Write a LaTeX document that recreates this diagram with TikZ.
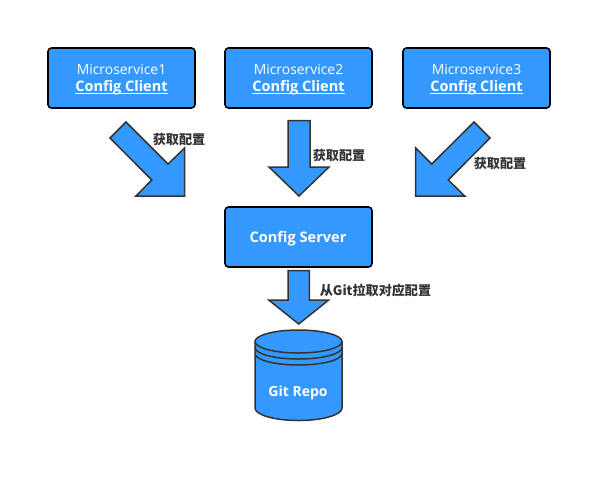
\documentclass[tikz,border=0pt]{standalone}
\usepackage{fontspec}
\setmainfont{Open Sans}
\newfontfamily\cjk{Noto Sans CJK SC}
\definecolor{fillblue}{HTML}{3399FF}
\definecolor{edgegray}{HTML}{333333}
\tikzset{
  svcbox/.style={draw=black,line width=1.6pt,fill=fillblue,rounded corners=3.5pt,minimum width=147pt,minimum height=60pt,inner sep=0pt},
  svctext/.style={text=white,inner sep=0pt,align=center,font=\fontsize{13.9}{17}\selectfont},
  blockarrow/.style={draw=edgegray,line width=1.5pt,fill=fillblue,line join=miter},
  tagtext/.style={text=edgegray,inner sep=0pt,font=\cjk\bfseries\fontsize{13.1}{15}\selectfont},
  cyl/.style={draw=edgegray,line width=1.5pt},
  cyltext/.style={text=white,inner sep=0pt,font=\bfseries\fontsize{14}{16}\selectfont}
}
\newcommand{\cfgclient}{{\fontsize{14.5}{17}\selectfont\textbf{\underline{\smash{Config Client}\rule[-1pt]{0pt}{1pt}}}}}
\begin{document}
\begin{tikzpicture}[x=1pt,y=-1pt]
\useasboundingbox (0,0) rectangle (612,483);
\fill[white] (0,0) rectangle (612,483);
\node[svcbox] (svc1) at (121.5,78) {};
\node[svcbox] (svc2) at (298.5,78) {};
\node[svcbox] (svc3) at (476.5,78) {};
\node[svcbox] (srv) at (298.5,237) {};
\node[svctext] (svc1t) at (121.5,79) {Microservice1\\\cfgclient};
\node[svctext] (svc2t) at (298.5,79) {Microservice2\\\cfgclient};
\node[svctext] (svc3t) at (476.5,79) {Microservice3\\\cfgclient};
\node[text=white,inner sep=0pt,font=\bfseries\fontsize{14.6}{17}\selectfont] (srvt) at (298,239) {Config Server};
% arrows
\draw[blockarrow] (126,122) -- (110,138) -- (151.7,180) -- (136,196) -- (184.7,196) -- (184.7,148) -- (168,164) -- cycle;
\draw[blockarrow] (288,120.5) -- (310,120.5) -- (310,167) -- (329,167) -- (299,196) -- (269,167) -- (288,167) -- cycle;
\draw[blockarrow] (474,122) -- (490,138) -- (448.3,180) -- (464.7,196) -- (415.7,196) -- (415.7,148) -- (431.7,164) -- cycle;
\draw[blockarrow] (288,270.7) -- (309.3,270.7) -- (309.3,300) -- (328.7,300) -- (298.7,324) -- (268.7,300) -- (288,300) -- cycle;
% labels
\node[tagtext] (t1) at (179,140) {获取配置};
\node[tagtext] (t2) at (339,156) {获取配置};
\node[tagtext] (t3) at (500,164) {获取配置};
\node[tagtext] (t4) at (375.5,290) {从Git拉取对应配置};
% repository
\draw[cyl,fill=fillblue] (255,341.5) -- (255,408) arc[start angle=180,end angle=0,x radius=43.5,y radius=12.5] -- (342,341.5) arc[start angle=0,end angle=-180,x radius=43.5,y radius=11.5] -- cycle;
\draw[cyl] (255,353.5) arc[start angle=180,end angle=0,x radius=43.5,y radius=11.5];
\draw[cyl] (255,347.5) arc[start angle=180,end angle=0,x radius=43.5,y radius=11.5];
\draw[cyl] (255,341.5) arc[start angle=180,end angle=0,x radius=43.5,y radius=11.5];
\node[cyltext] (repo) at (298,393) {Git Repo};
\end{tikzpicture}
\end{document}
